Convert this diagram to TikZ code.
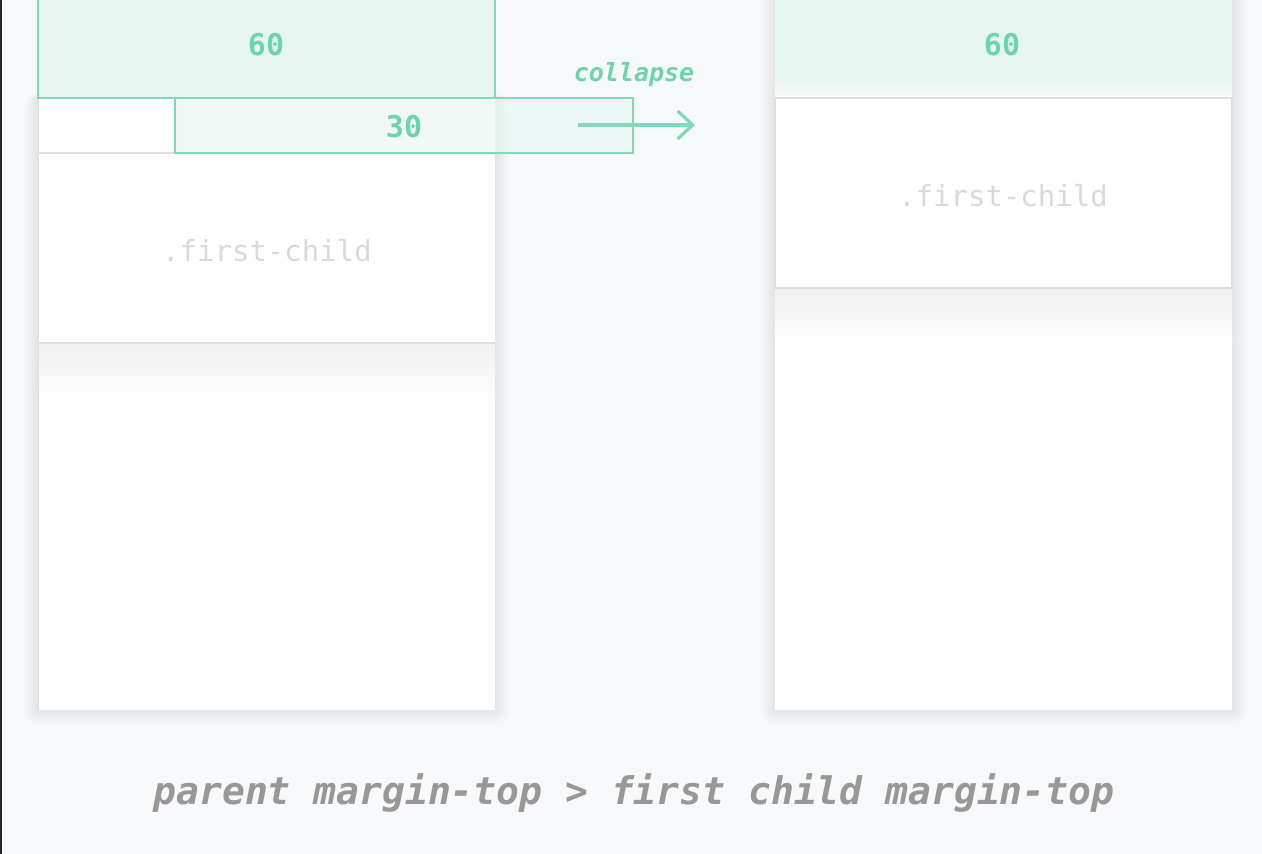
\documentclass[tikz,border=0pt]{standalone}
\usepackage{fontspec}
\newfontfamily\mono{DejaVu Sans Mono}
\usetikzlibrary{arrows.meta}
\definecolor{bg}{RGB}{248,249,251}
\definecolor{minttext}{RGB}{110,212,174}
\definecolor{mintline}{RGB}{128,218,186}
\definecolor{mintfill}{RGB}{230,246,241}
\definecolor{childtext}{RGB}{218,218,218}
\definecolor{childline}{RGB}{222,222,222}
\definecolor{captext}{RGB}{152,152,152}
\tikzset{
  panelshadow/.style={fill=black,fill opacity=0.007,draw=none},
  numlabel/.style={text=minttext,font=\mono\bfseries\fontsize{30}{30}\selectfont,inner sep=0pt},
  childlabel/.style={text=childtext,font=\mono\fontsize{29}{29}\selectfont,inner sep=0pt},
  minttbox/.style={draw=mintline,line width=1.2pt},
  childbox/.style={draw=childline,line width=1.2pt,fill=white},
}
\begin{document}
\begin{tikzpicture}[x=1pt,y=-1pt]
\useasboundingbox (0,0) rectangle (1262,854);
\fill[bg] (0,0) rectangle (1262,854);
\fill[black!85] (0,0) rectangle (1.6,854);
% ---- shadows of the panels
\foreach \d in {1.5,3,...,15}{
  \fill[panelshadow,rounded corners=\d pt] (38-\d,98-\d*0.3) rectangle (495+\d,710+\d);
  \fill[panelshadow,rounded corners=\d pt] (775-\d,-20) rectangle (1232+\d,710+\d);
}
% ---- left panel
\fill[white] (38,98) rectangle (495,710);
\fill[white] (38,153) rectangle (495,343);
\shade[top color=black!6,bottom color=white] (38,343) rectangle (495,400);
\draw[childline,line width=1.2pt] (38,153) -- (495,153);
\draw[childline,line width=1.2pt] (38,343) -- (495,343);
\draw[childline,line width=0.8pt] (38,98) -- (38,710);
\fill[mintfill] (38,-2) rectangle (495,98);
\draw[minttbox] (38,-2) -- (38,98) -- (495,98) -- (495,-2);
\fill[mintfill,fill opacity=0.6] (175,98) rectangle (633,153);
\draw[minttbox] (175,98) rectangle (633,153);
\node[numlabel] (l60) at (266,45) {60};
\node[numlabel] (l30) at (404,127) {30};
\node[childlabel] (lchild) at (267,251) {.first-child};
% ---- arrow
\coordinate (as) at (578,125);
\coordinate (ae) at (695,125);
\draw[mintline,line width=3.2pt,-{Straight Barb[length=15pt,width=28pt,line width=3.2pt]}] (as) -- (ae);
\node[text=minttext,font=\mono\bfseries\itshape\fontsize{25}{25}\selectfont,inner sep=0pt] (coll) at (634,75) {collapse};
% ---- right panel
\fill[mintfill] (775,0) rectangle (1232,98);
\shade[top color=mintfill,bottom color=mintfill!80!black!6] (775,80) rectangle (1232,98);
\fill[white] (775,98) rectangle (1232,710);
\shade[top color=black!6,bottom color=white] (775,288) rectangle (1232,345);
\draw[childbox] (775,98) rectangle (1232,288);
\node[childlabel] (rchild) at (1003,196) {.first-child};
\node[numlabel] (r60) at (1002,45) {60};
% ---- caption
\node[text=captext,font=\mono\bfseries\itshape\fontsize{38}{38}\selectfont,inner sep=0pt,anchor=base] (cap) at (634,804) {parent margin-top > first child margin-top};
\end{tikzpicture}
\end{document}
